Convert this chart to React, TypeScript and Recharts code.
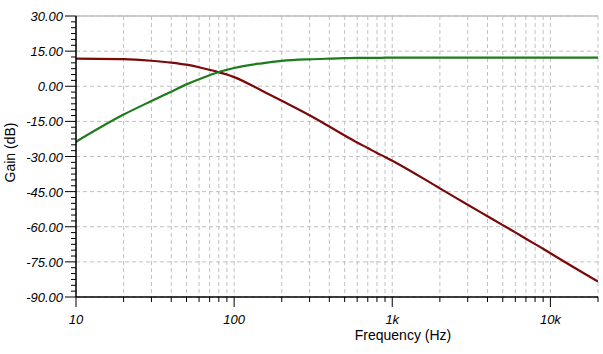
import { LineChart, Line, XAxis, YAxis, CartesianGrid, ReferenceLine, Label } from 'recharts'

const freqs = [10, 20, 30, 40, 50, 60, 70, 80, 90, 100, 150, 200, 300, 400, 500, 600, 700, 800, 900, 1000, 2000, 3000, 4000, 5000, 6000, 7000, 8000, 9000, 10000, 20000]
const lowPass = [11.8, 11.6, 10.9, 10.1, 9.2, 8.1, 7.0, 6.0, 5.0, 3.9, -1.9, -6.2, -12.4, -17.2, -21.0, -24.0, -26.4, -28.5, -30.2, -31.8, -43.6, -50.6, -55.5, -59.3, -62.4, -65.1, -67.4, -69.4, -71.3, -83.4]
const highPass = [-23.7, -12.1, -6.3, -2.3, 0.8, 3.0, 4.7, 6.1, 7.0, 7.8, 9.8, 10.8, 11.5, 11.8, 12.0, 12.1, 12.1, 12.1, 12.2, 12.2, 12.2, 12.2, 12.2, 12.2, 12.2, 12.2, 12.2, 12.2, 12.2, 12.2]

const xTicks = [10, 20, 30, 40, 50, 60, 70, 80, 90, 100, 200, 300, 400, 500, 600, 700, 800, 900, 1000, 2000, 3000, 4000, 5000, 6000, 7000, 8000, 9000, 10000, 20000]
const xLabels: Record<number, string> = { 10: '10', 100: '100', 1000: '1k', 10000: '10k' }
const yMajor = [-90, -75, -60, -45, -30, -15, 0, 15, 30]
const yTicks = Array.from({ length: 49 }, (_, i) => -90 + i * 2.5)

const RED = '#7a0a0a'
const GREEN = '#1c7c1c'
const GRID = '#c0c0c0'
const FONT = 'Arial, "Liberation Sans", sans-serif'

const data = freqs.map((f, i) => ({ f, lp: lowPass[i], hp: highPass[i] }))

const XTick = (props: any) => {
  const { x, y, payload } = props
  const lbl = xLabels[payload.value]
  return (
    <g>
      <line x1={x} y1={y} x2={x} y2={y + (lbl ? 10 : 5)} stroke="#000" />
      {lbl && (
        <text x={x} y={y + 27} textAnchor="middle" fontSize={13} fontStyle="italic" fontFamily={FONT} fill="#000">{lbl}</text>
      )}
    </g>
  )
}

const YTick = (props: any) => {
  const { x, y, payload } = props
  const major = yMajor.includes(payload.value)
  return (
    <g>
      <line x1={x - (major ? 11 : 5)} y1={y} x2={x} y2={y} stroke="#000" />
      {major && (
        <text x={x - 13} y={y + 5} textAnchor="end" fontSize={13} fontStyle="italic" fontFamily={FONT} fill="#000">{payload.value.toFixed(2)}</text>
      )}
    </g>
  )
}

export default function App() {
  return (
    <div style={{ position: 'absolute', left: 0, top: 0, width: 603, height: 354, background: '#fff' }}>
      <LineChart width={603} height={354} data={data} margin={{ top: 16, right: 5, left: 0, bottom: 0 }}>
        <CartesianGrid stroke={GRID} strokeDasharray="4 3" horizontalValues={yMajor} verticalValues={xTicks} />
        <ReferenceLine y={30} stroke={GRID} strokeWidth={1.5} />
        <XAxis dataKey="f" type="number" scale="log" domain={[10, 20000]} ticks={xTicks} interval={0}
          tick={<XTick />} tickLine={false} tickSize={0} tickMargin={0} height={57} axisLine={{ stroke: '#000', strokeWidth: 1.5 }} allowDataOverflow>
          <Label value="Frequency (Hz)" position="insideBottom" offset={14} dx={66} fontSize={14} fontFamily={FONT} fill="#000" />
        </XAxis>
        <YAxis type="number" domain={[-90, 30]} ticks={yTicks} interval={0} width={76}
          tick={<YTick />} tickLine={false} tickSize={0} tickMargin={0} axisLine={{ stroke: '#000', strokeWidth: 1.5 }}>
          <Label content={(p: any) => {
            const vb = p.viewBox
            const cx = 10
            const cy = vb.y + vb.height / 2 - 4
            return <text x={cx} y={cy} transform={`rotate(-90 ${cx} ${cy})`} textAnchor="middle" dominantBaseline="central" fontSize={14} fontFamily={FONT} fill="#000">Gain (dB)</text>
          }} />
        </YAxis>
        <Line type="monotone" dataKey="lp" stroke={RED} strokeWidth={2.2} dot={false} isAnimationActive={false} />
        <Line type="monotone" dataKey="hp" stroke={GREEN} strokeWidth={2.2} dot={false} isAnimationActive={false} />
      </LineChart>
    </div>
  )
}
